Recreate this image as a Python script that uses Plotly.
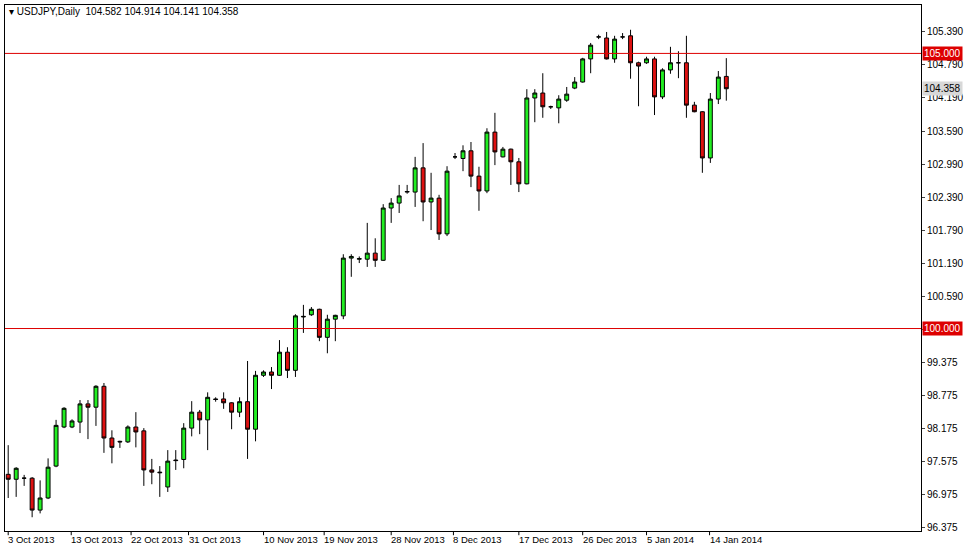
import plotly.graph_objects as go

opens = [97.35,97.26,97.28,97.28,96.70,96.92,97.50,98.21,98.21,98.30,98.63,98.57,98.95,98.01,97.95,97.94,98.21,98.14,97.43,97.39,
         97.12,97.61,97.62,98.19,98.48,98.34,98.72,98.72,98.65,98.48,98.67,98.17,99.15,99.21,99.15,99.57,99.24,100.21,100.25,100.35,
         99.84,100.17,100.23,101.28,101.26,101.26,101.37,101.24,102.19,102.28,102.48,102.48,102.92,102.30,102.37,101.72,103.12,103.09,103.23,102.77,
         102.50,103.57,103.12,103.26,103.03,102.63,104.19,104.28,104.03,104.01,104.15,104.37,104.48,104.90,105.30,105.28,104.90,105.30,105.32,104.83,
         104.83,104.90,104.21,104.70,104.83,104.83,104.06,103.94,103.10,104.17,104.582]
highs = [97.88,97.48,97.34,97.30,97.24,97.64,98.34,98.57,98.35,98.70,98.70,98.97,99.01,98.15,97.96,98.24,98.48,98.19,97.63,97.50,
         97.79,97.79,98.28,98.68,98.52,98.84,98.75,98.84,98.66,98.75,99.41,99.23,99.24,99.30,99.79,99.66,100.26,100.43,100.39,100.36,
         100.25,100.25,101.35,101.35,101.31,101.92,101.64,102.26,102.37,102.61,102.61,103.12,103.37,102.83,102.43,102.95,103.19,103.33,103.39,102.94,
         103.64,103.92,103.30,103.27,103.10,104.35,104.35,104.64,104.05,104.24,104.39,104.57,104.92,105.19,105.34,105.39,105.32,105.37,105.43,104.85,
         104.94,104.94,104.73,105.12,105.04,105.32,104.12,103.95,104.28,104.68,104.914]
lows = [96.92,96.94,97.14,96.57,96.64,96.90,97.48,98.19,98.19,98.10,97.99,98.23,97.74,97.55,97.83,97.92,97.84,97.14,97.17,96.94,
        97.03,97.43,97.46,98.04,98.08,97.79,98.67,98.54,98.17,98.39,97.63,97.95,99.12,98.90,99.14,99.10,99.12,99.92,100.23,99.77,
        99.55,99.77,100.17,100.94,101.19,101.12,101.12,101.23,101.92,102.10,102.45,102.21,101.95,101.79,101.61,101.68,103.08,102.86,102.57,102.14,
        102.46,102.97,103.11,102.61,102.48,102.62,103.75,103.83,103.99,103.73,104.12,104.35,104.47,104.64,105.26,104.89,104.83,105.26,104.54,104.04,
        104.81,103.88,104.17,104.63,104.55,103.83,103.93,102.83,103.01,104.08,104.141]
closes = [97.26,97.46,97.28,96.70,96.92,97.48,98.24,98.55,98.32,98.63,98.57,98.95,98.01,97.84,97.94,98.21,98.12,97.43,97.39,97.38,
          97.59,97.60,98.19,98.48,98.34,98.75,98.71,98.65,98.48,98.67,98.17,99.15,99.21,99.15,99.57,99.24,100.23,100.22,100.35,99.84,
          100.17,100.24,101.28,101.31,101.27,101.37,101.24,102.19,102.28,102.41,102.49,102.92,102.30,102.37,101.72,102.86,103.12,103.23,102.77,102.50,
          103.57,103.21,103.26,103.03,102.63,104.19,104.28,104.03,104.03,104.17,104.26,104.48,104.90,105.15,105.30,104.90,105.26,105.30,104.83,104.77,
          104.90,104.21,104.70,104.83,104.83,104.06,103.94,103.10,104.17,104.57,104.358]

date_labels = ["3 Oct 2013","13 Oct 2013","22 Oct 2013","31 Oct 2013","10 Nov 2013","19 Nov 2013",
               "28 Nov 2013","8 Dec 2013","17 Dec 2013","26 Dec 2013","5 Jan 2014","14 Jan 2014"]
date_idx = [0, 7.9, 15.4, 22.6, 32, 39.6, 48, 55.8, 64, 72, 80, 87.9]

price_ticks = [105.390,104.790,104.190,103.590,102.990,102.390,101.790,101.190,100.590,99.975,99.375,98.775,98.175,97.575,96.975,96.375]
price_tick_text = ["105.390","104.790","104.190","103.590","102.990","102.390","101.790","101.190","100.590","99.975","99.375","98.775","98.175","97.575","96.975","96.375"]
levels = [105.0, 100.0]

FONT = "Liberation Sans"
idx = list(range(len(opens)))
fig = go.Figure(go.Candlestick(
    x=idx, open=opens, high=highs, low=lows, close=closes,
    increasing=dict(fillcolor="#22ee22", line=dict(color="black", width=1)),
    decreasing=dict(fillcolor="#dd1111", line=dict(color="black", width=1)),
    whiskerwidth=0, showlegend=False, hoverinfo="skip"))

for lv in levels:
    fig.add_hline(y=lv, line=dict(color="#dd0000", width=1))
    fig.add_annotation(x=1, xref="paper", y=lv, yref="y", xanchor="left", text=f"{lv:.3f}",
                       showarrow=False, bgcolor="#dd0000", font=dict(color="white", size=10, family=FONT),
                       borderpad=1, xshift=1)
fig.add_annotation(x=1, xref="paper", y=closes[-1], yref="y", xanchor="left", text=f"{closes[-1]:.3f}",
                   showarrow=False, bgcolor="#d8d8d8", font=dict(color="black", size=10, family=FONT),
                   borderpad=1, xshift=1)

for lab, i in zip(date_labels, date_idx):
    fig.add_annotation(x=i, xref="x", y=0, yref="paper", yanchor="top", xanchor="left", text=lab,
                       showarrow=False, font=dict(size=9.5, color="black", family=FONT), yshift=-1, xshift=-2)
    fig.add_shape(type="line", x0=i, x1=i, y0=0, y1=-0.008, xref="x", yref="paper", line=dict(color="black", width=1))

fig.add_annotation(x=0, xref="paper", y=1, yref="paper", xanchor="left", yanchor="top",
                   text="▾ USDJPY,Daily  104.582 104.914 104.141 104.358", showarrow=False,
                   font=dict(size=10, color="black", family=FONT), xshift=2, yshift=1)

fig.update_layout(
    width=976, height=550, margin=dict(l=5, r=55, t=5, b=19, autoexpand=False),
    paper_bgcolor="white", plot_bgcolor="white",
    xaxis=dict(range=[-0.4, 114.4], showticklabels=False, showgrid=False, zeroline=False,
               rangeslider=dict(visible=False), showline=True, linecolor="black", mirror=True, ticks=""),
    yaxis=dict(range=[96.32, 105.88], side="right", tickvals=price_ticks, ticktext=price_tick_text,
               showgrid=False, zeroline=False, showline=True, linecolor="black", mirror=True,
               ticks="outside", ticklen=3, tickfont=dict(size=10, family=FONT, color="black")),
)
fig.write_html("out.html", config={"displayModeBar": False},
               post_script="document.body.style.margin='0';document.body.style.overflow='hidden';")
